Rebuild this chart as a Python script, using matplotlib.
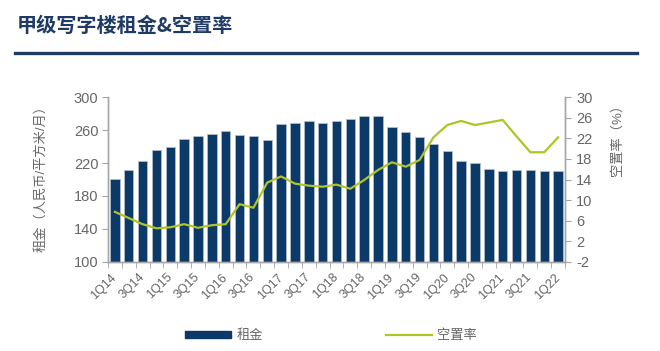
import matplotlib
matplotlib.use('Agg')
import matplotlib.pyplot as plt
import matplotlib.patches as mpatches
from matplotlib.lines import Line2D
import numpy as np

plt.rcParams['font.family'] = ['Liberation Sans', 'Noto Sans CJK SC']
plt.rcParams['axes.unicode_minus'] = False

# Datos
quarters = ['1Q14', '2Q14', '3Q14', '4Q14', '1Q15', '2Q15', '3Q15', '4Q15',
            '1Q16', '2Q16', '3Q16', '4Q16', '1Q17', '2Q17', '3Q17', '4Q17',
            '1Q18', '2Q18', '3Q18', '4Q18', '1Q19', '2Q19', '3Q19', '4Q19',
            '1Q20', '2Q20', '3Q20', '4Q20', '1Q21', '2Q21', '3Q21', '4Q21',
            '1Q22']
rent = [200, 211.5, 223, 236, 240, 249, 253, 255,
        259, 254.5, 253, 248, 267.5, 269, 271, 269,
        271, 274, 277, 277, 264, 258, 252, 243,
        235, 222.7, 219.5, 212.2, 210.5, 211.3, 212, 210.5,
        210.5]
vacancy = [7.7, 6.5, 5.3, 4.5, 4.7, 5.3, 4.6, 5.1,
           5.3, 9.2, 8.5, 13.4, 14.6, 13.2, 12.8, 12.6,
           13.0, 12.2, 13.9, 15.85, 17.35, 16.5, 17.8, 22.2,
           24.6, 25.4, 24.6, 25.1, 25.6, 22.4, 19.3, 19.3,
           22.2]
left_ticks = [100, 140, 180, 220, 260, 300]
right_ticks = [-2, 2, 6, 10, 14, 18, 22, 26, 30]

navy = '#0c3a68'
green = '#b0c428'
gray = '#a6a6a6'
txt = '#666666'

fig = plt.figure(figsize=(6.6, 3.51), dpi=100)
ax = fig.add_axes([108/660, 1-261.7/351, 457/660, 164.4/351])

x = np.arange(len(quarters))
ax.bar(x, rent, width=0.68, color=navy, edgecolor='#b8c2ce', linewidth=0.5)
ax.set_xlim(-0.5, len(quarters)-0.5)
ax.set_ylim(100, 300)
ax.set_yticks(left_ticks)

ax2 = ax.twinx()
ax2.plot(x, vacancy, color=green, linewidth=1.6)
ax2.set_ylim(-2, 30)
ax2.set_yticks(right_ticks)

# Ejes
for a in [ax, ax2]:
    a.spines['top'].set_visible(False)
    for s in ['left', 'right', 'bottom']:
        a.spines[s].set_color(gray)
        a.spines[s].set_linewidth(1)
ax.tick_params(axis='y', colors=gray, labelcolor=txt, labelsize=10.5, length=4, pad=3)
ax2.tick_params(axis='y', colors=gray, labelcolor=txt, labelsize=10.5, length=4, pad=4)

ax.set_xticks(x[::2])
ax.set_xticklabels(quarters[::2], rotation=45, ha='right', va='center',
                   rotation_mode='anchor', fontsize=9, color=txt)
ax.set_xticks(np.arange(-0.5, len(quarters)), minor=True)
ax.tick_params(axis='x', which='major', length=0, pad=10)
ax.tick_params(axis='x', which='minor', length=4, color=gray)

# Textos
fig.text(41/660, 1-175/351, '租金（人民币/平方米/月）', rotation=90, ha='center', va='center',
         fontsize=9.5, color=txt)
fig.text(617/660, 1-98/351, '空置率（%）', rotation=90, ha='center', va='top',
         fontsize=9.5, color=txt)
fig.text(17/660, 1-25/351, '甲级写字楼租金&空置率', ha='left', va='center',
         fontsize=14.5, fontweight='bold', color='#1f3a64',
         family=['Noto Sans CJK SC'])
fig.add_artist(Line2D([15/660, 637/660], [1-53/351, 1-53/351], color='#1f3a64', linewidth=2.4))

# Leyenda
bar_patch = mpatches.Patch(color=navy, label='租金')
line_h = Line2D([], [], color=green, linewidth=1.6, label='空置率')
fig.legend(handles=[bar_patch, line_h], loc='center', bbox_to_anchor=(331/660, 1-336/351),
           ncol=2, frameon=False, fontsize=9.5, handlelength=3.5, handleheight=0.45,
           handletextpad=0.4, columnspacing=9.3, labelcolor=txt)

plt.savefig('out.png', dpi=100)
